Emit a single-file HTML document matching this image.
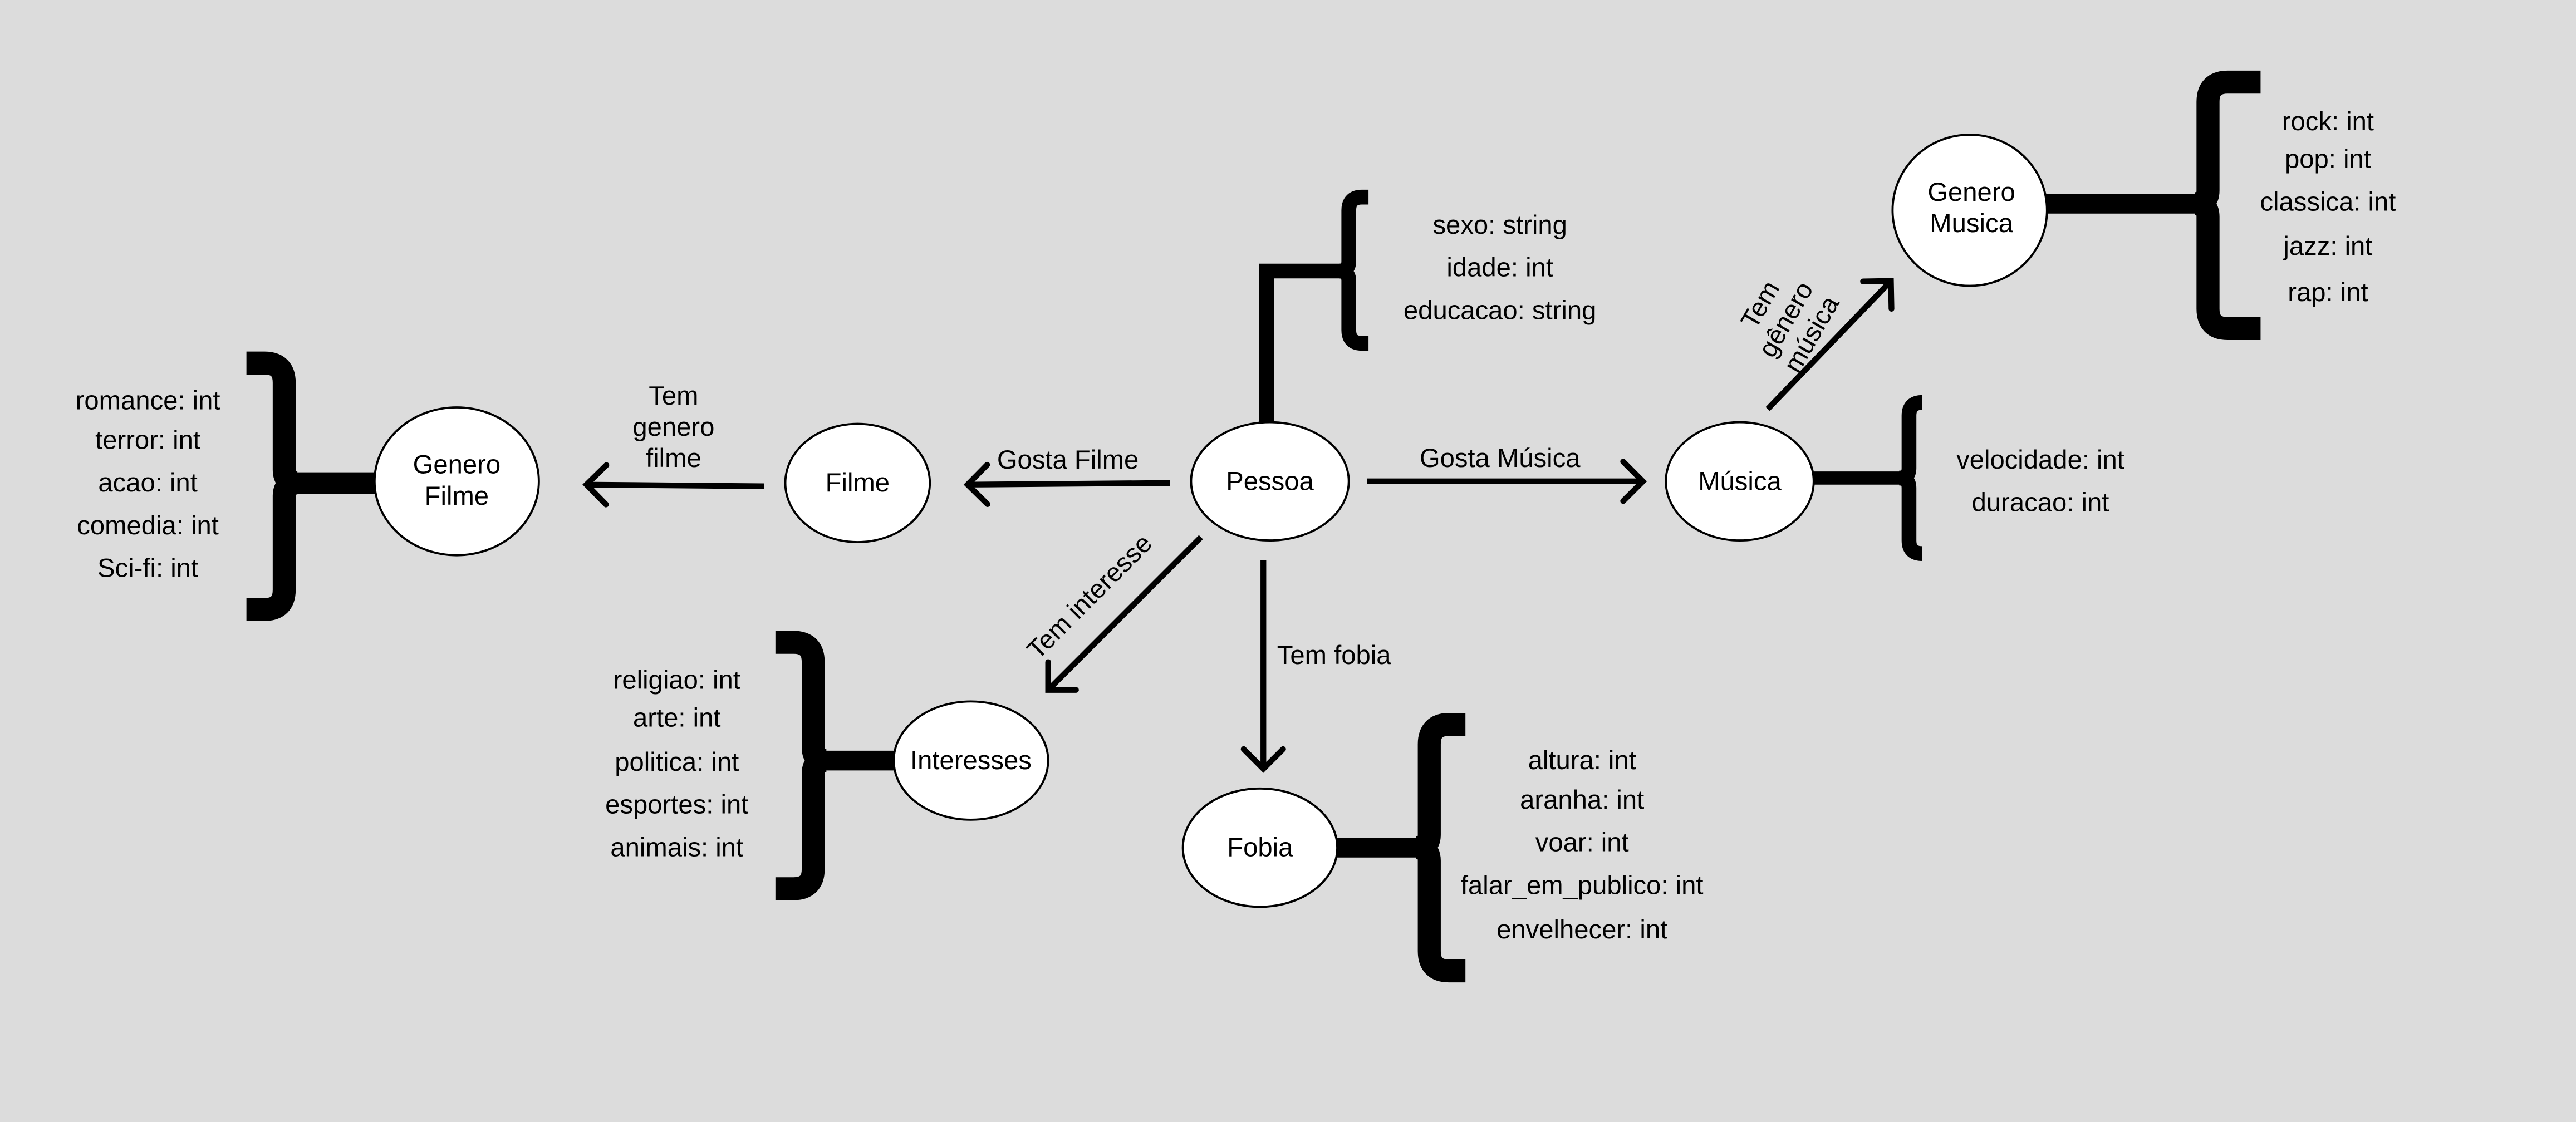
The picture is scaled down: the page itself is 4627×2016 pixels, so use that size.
<!DOCTYPE html>
<html><head><meta charset="utf-8"><style>
html,body{margin:0;padding:0;background:#dcdcdc;}
svg{display:block;}
text{font-family:"Liberation Sans",sans-serif;font-size:16px;fill:#000;text-anchor:middle;dominant-baseline:middle;}
</style></head><body>
<svg width="4627" height="2016" viewBox="0 0 1568 683" preserveAspectRatio="none" xmlns="http://www.w3.org/2000/svg">
<defs>
<marker id="a" markerUnits="userSpaceOnUse" markerWidth="30" markerHeight="30" refX="15" refY="15" orient="auto">
<path d="M3 3 L15 15 L3 27" fill="none" stroke="#000" stroke-width="3.5" stroke-linecap="round" stroke-linejoin="miter"/>
</marker>
</defs>
<rect width="1568" height="683" fill="#dcdcdc"/>
<g fill="none" stroke="#000" stroke-linecap="butt">
<!-- Pessoa -->
<path d="M771 258 L771 165 L816 165" stroke-width="9"/>
<path d="M833 120 L829 120 Q821 120 821 128 L821 159 Q821 165 815 165 Q821 165 821 171 L821 201 Q821 209 829 209 L833 209" stroke-width="9"/>
<!-- Musica -->
<path d="M1104 291 L1157 291" stroke-width="8"/>
<path d="M1170 245 L1170 245 Q1162 245 1162 253 L1162 285 Q1162 291 1156 291 Q1162 291 1162 297 L1162 329 Q1162 337 1170 337" stroke-width="9"/>
<!-- Genero Musica -->
<path d="M1245 124 L1338 124" stroke-width="12"/>
<path d="M1376 50 L1356 50 Q1344 50 1344 62 L1344 116 Q1344 124 1336 124 Q1344 124 1344 132 L1344 188 Q1344 200 1356 200 L1376 200" stroke-width="14"/>
<!-- Genero Filme -->
<path d="M180 294 L230 294" stroke-width="13"/>
<path d="M150 221 L161 221 Q173 221 173 233 L173 286 Q173 294 181 294 Q173 294 173 302 L173 359 Q173 371 161 371 L150 371" stroke-width="14"/>
<!-- Interesses -->
<path d="M500 463 L546 463" stroke-width="12"/>
<path d="M472 391 L483 391 Q495 391 495 403 L495 455 Q495 463 503 463 Q495 463 495 471 L495 529 Q495 541 483 541 L472 541" stroke-width="14"/>
<!-- Fobia -->
<path d="M813 516 L866 516" stroke-width="12"/>
<path d="M892 441 L882 441 Q870 441 870 453 L870 508 Q870 516 862 516 Q870 516 870 524 L870 579 Q870 591 882 591 L892 591" stroke-width="14"/>
<!-- arrows -->
<g stroke-width="3.5">
<line x1="832" y1="293" x2="1000" y2="293" marker-end="url(#a)"/>
<line x1="712" y1="294" x2="589" y2="295" marker-end="url(#a)"/>
<line x1="465" y1="296" x2="357" y2="295" marker-end="url(#a)"/>
<line x1="731" y1="327" x2="638" y2="420" marker-end="url(#a)"/>
<line x1="769" y1="341" x2="769" y2="468" marker-end="url(#a)"/>
<line x1="1076" y1="249" x2="1151" y2="171" marker-end="url(#a)"/>
</g>
</g>
<g fill="#fff" stroke="#000" stroke-width="1.3">
<ellipse cx="773" cy="293" rx="48" ry="36"/>
<ellipse cx="522" cy="294" rx="44" ry="36"/>
<ellipse cx="278" cy="293" rx="50" ry="45"/>
<ellipse cx="1059" cy="293" rx="45" ry="36"/>
<ellipse cx="1199" cy="128" rx="47" ry="46"/>
<ellipse cx="591" cy="463" rx="47" ry="36"/>
<ellipse cx="767" cy="516" rx="47" ry="36"/>
</g>
<text x="773" y="294">Pessoa</text>
<text x="522" y="295">Filme</text>
<text x="278" y="284">Genero</text>
<text x="278" y="303">Filme</text>
<text x="1059" y="294">Música</text>
<text x="1200" y="118">Genero</text>
<text x="1200" y="137">Musica</text>
<text x="591" y="464">Interesses</text>
<text x="767" y="517">Fobia</text>

<text x="913" y="138">sexo: string</text>
<text x="913" y="164">idade: int</text>
<text x="913" y="190">educacao: string</text>

<text x="1417" y="75">rock: int</text>
<text x="1417" y="98">pop: int</text>
<text x="1417" y="124">classica: int</text>
<text x="1417" y="151">jazz: int</text>
<text x="1417" y="179">rap: int</text>

<text x="1242" y="281">velocidade: int</text>
<text x="1242" y="307">duracao: int</text>

<text x="90" y="245">romance: int</text>
<text x="90" y="269">terror: int</text>
<text x="90" y="295">acao: int</text>
<text x="90" y="321">comedia: int</text>
<text x="90" y="347">Sci-fi: int</text>

<text x="412" y="415">religiao: int</text>
<text x="412" y="438">arte: int</text>
<text x="412" y="465">politica: int</text>
<text x="412" y="491">esportes: int</text>
<text x="412" y="517">animais: int</text>

<text x="963" y="464">altura: int</text>
<text x="963" y="488">aranha: int</text>
<text x="963" y="514">voar: int</text>
<text x="963" y="540">falar_em_publico: int</text>
<text x="963" y="567">envelhecer: int</text>

<text x="913" y="280">Gosta Música</text>
<text x="650" y="281">Gosta Filme</text>
<text x="410" y="242">Tem</text>
<text x="410" y="261">genero</text>
<text x="410" y="280">filme</text>
<text x="812" y="400">Tem fobia</text>
<text x="664" y="364" transform="rotate(-45 664 364)">Tem interesse</text>
<g transform="rotate(-60 1088 195)">
<text x="1088" y="177">Tem</text>
<text x="1088" y="195">gênero</text>
<text x="1088" y="213">música</text>
</g>
</svg>
</body></html>
